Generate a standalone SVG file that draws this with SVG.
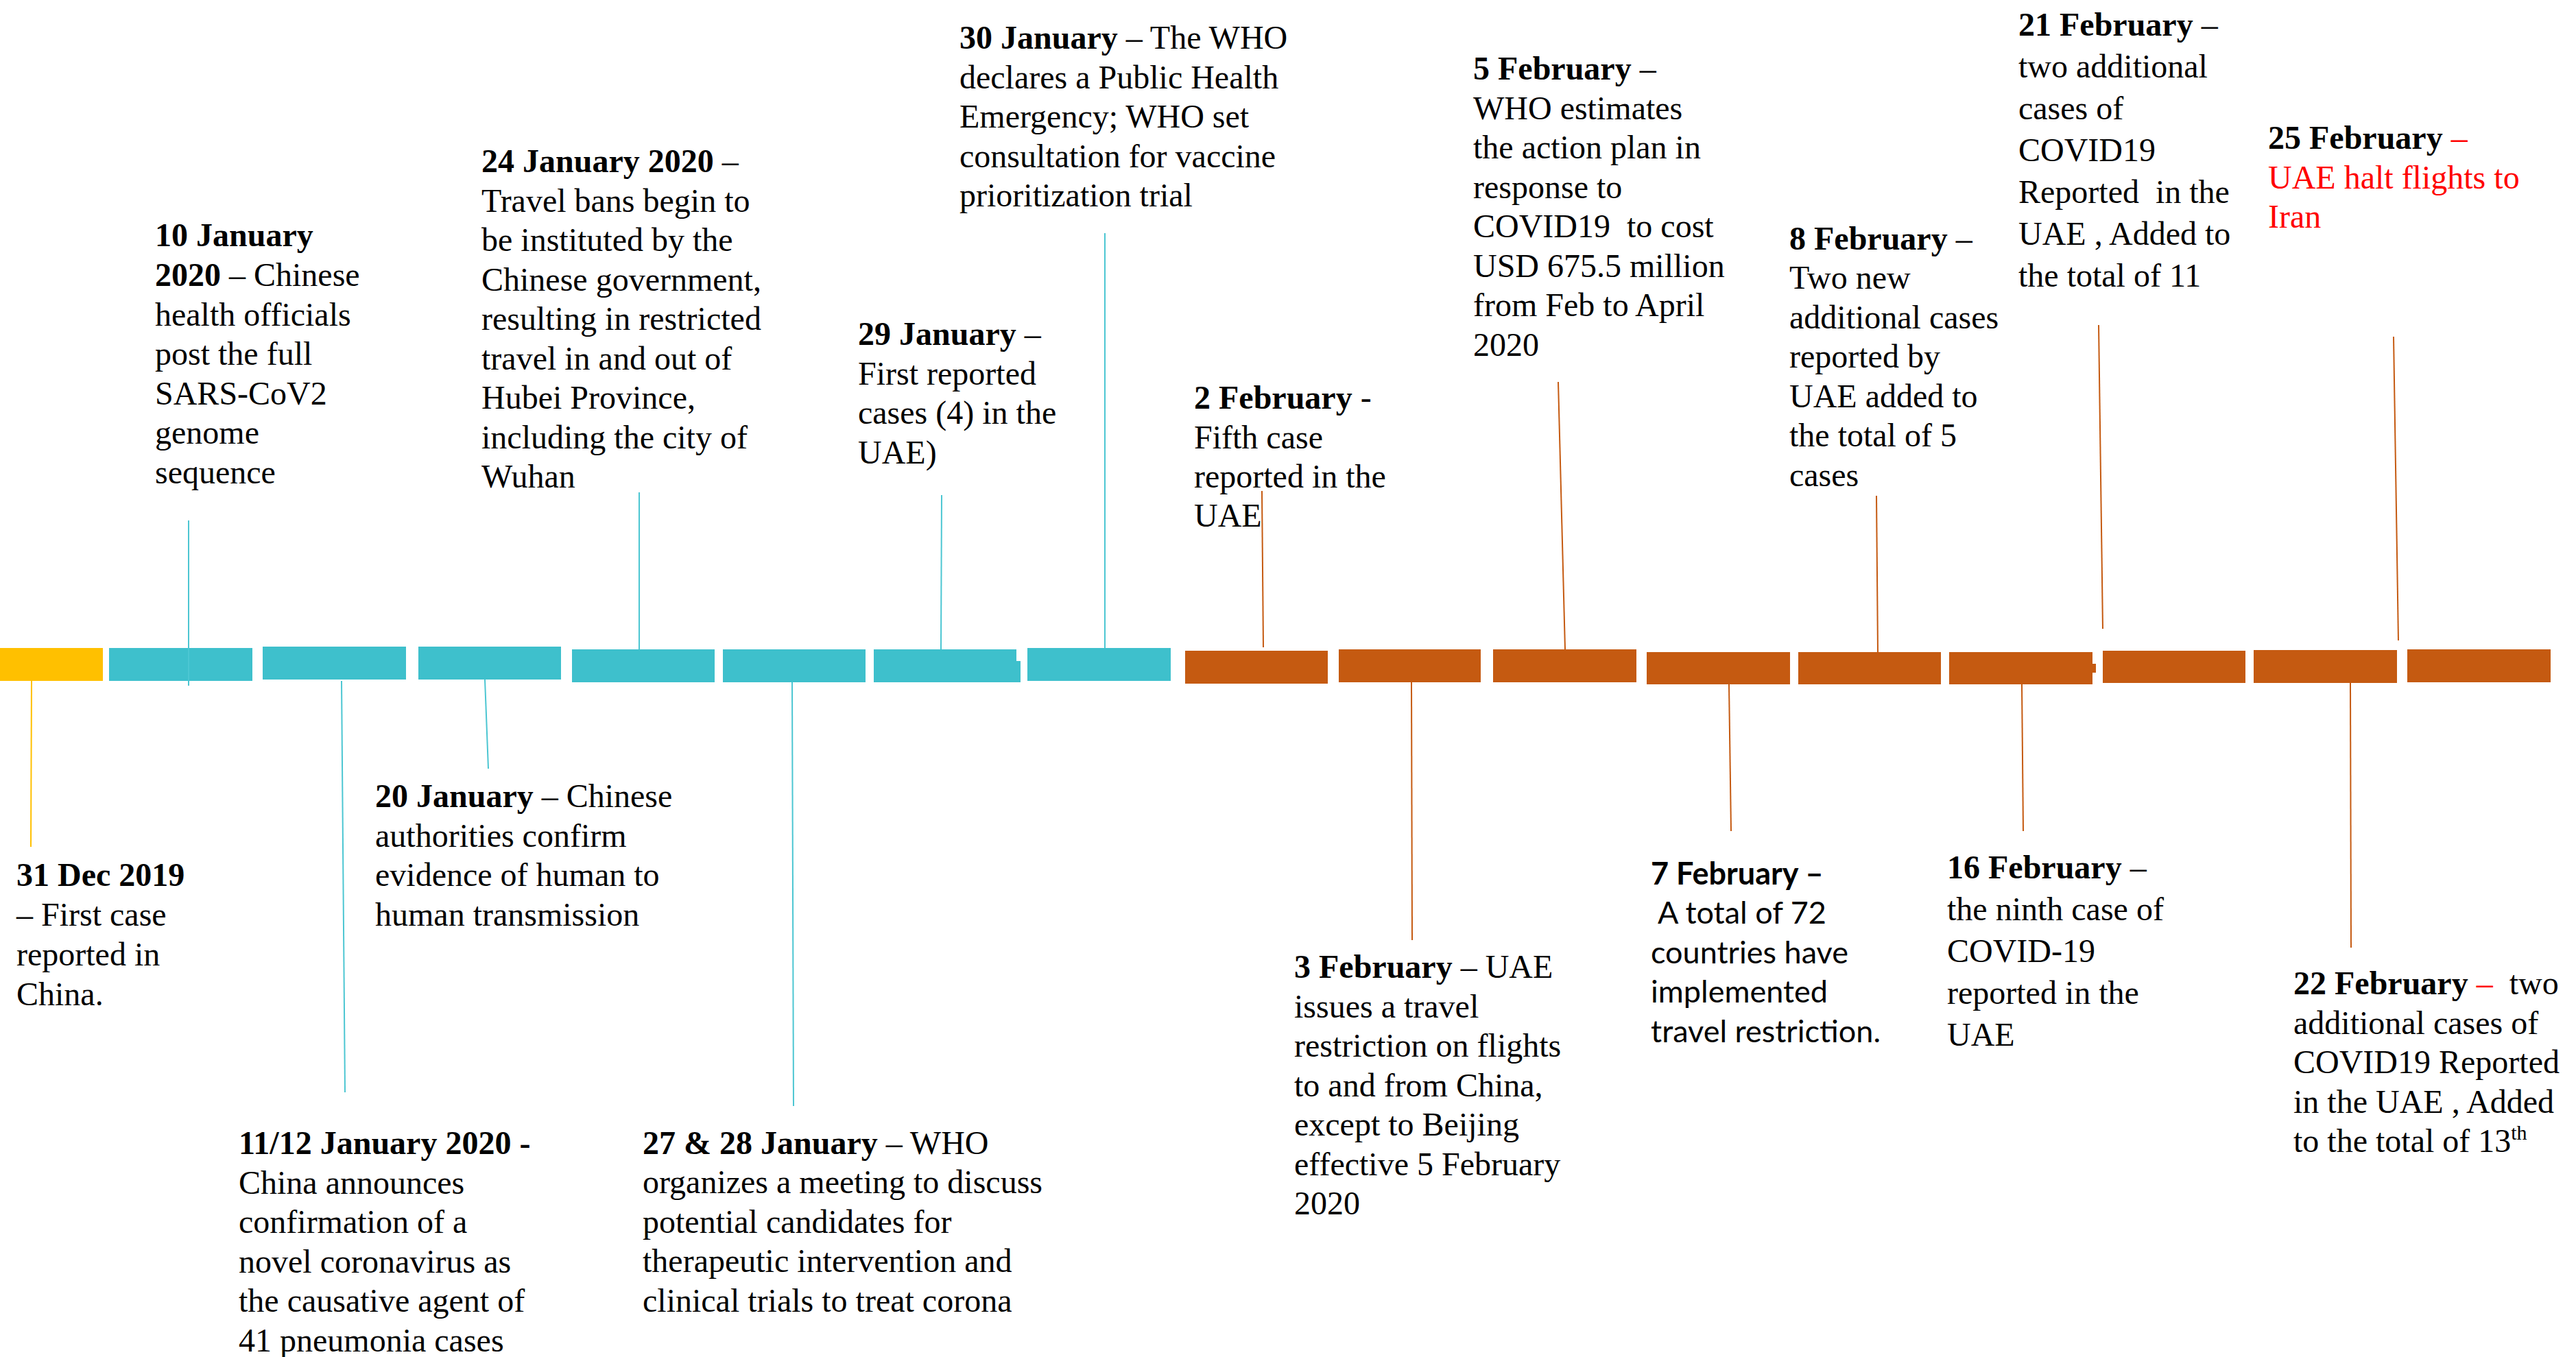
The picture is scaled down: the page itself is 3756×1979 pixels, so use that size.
<svg xmlns="http://www.w3.org/2000/svg" width="3756" height="1979" viewBox="0 0 3756 1979">
<defs>
<style>
.t{font-family:"Liberation Serif","Times New Roman",serif;font-size:48px;fill:#000}
.c{font-family:Lato,"Liberation Sans",sans-serif;font-size:45px;fill:#000}
.b{font-weight:bold}
.r{fill:#FF0000}
.y{fill:#FFC000}
.tq{fill:#3EC0CC}
.o{fill:#C55A11}
.ly{stroke:#FFC000;stroke-width:2;fill:none}
.lt{stroke:#4CC6D2;stroke-width:2;fill:none}
.lo{stroke:#C55A11;stroke-width:2;fill:none}
</style>
</defs>
<rect width="3756" height="1979" fill="#FFFFFF"/>
<g id="timeline-bar">
<rect class="y" x="0" y="945" width="150" height="48"/>
<rect class="tq" x="159" y="945" width="209" height="48"/>
<rect class="tq" x="383" y="943" width="209" height="48"/>
<rect class="tq" x="610" y="943" width="208" height="48"/>
<rect class="tq" x="834" y="947" width="208" height="48"/>
<rect class="tq" x="1054" y="947" width="208" height="48"/>
<rect class="tq" x="1274" y="947" width="208" height="48"/>
<rect class="tq" x="1481" y="964" width="7" height="31"/>
<rect class="tq" x="1498" y="945" width="209" height="48"/>
<rect class="o" x="1728" y="949" width="208" height="48"/>
<rect class="o" x="1952" y="947" width="207" height="48"/>
<rect class="o" x="2177" y="947" width="209" height="48"/>
<rect class="o" x="2401" y="951" width="209" height="47"/>
<rect class="o" x="2622" y="951" width="208" height="47"/>
<rect class="o" x="2842" y="951" width="209" height="47"/>
<rect class="o" x="3050" y="968" width="6" height="13"/>
<rect class="o" x="3066" y="949" width="208" height="47"/>
<rect class="o" x="3286" y="948" width="209" height="48"/>
<rect class="o" x="3510" y="947" width="209" height="48"/>
</g>
<g id="connectors">
<line class="ly" x1="46" y1="993" x2="45" y2="1235"/>
<line class="lt" x1="275" y1="759" x2="275" y2="1000"/>
<line class="lt" x1="498" y1="993" x2="503" y2="1593"/>
<line class="lt" x1="707" y1="991" x2="712" y2="1121"/>
<line class="lt" x1="932" y1="718" x2="932" y2="947"/>
<line class="lt" x1="1155" y1="995" x2="1157" y2="1613"/>
<line class="lt" x1="1373" y1="722" x2="1372" y2="947"/>
<line class="lt" x1="1611" y1="340" x2="1611" y2="945"/>
<line class="lo" x1="1840" y1="716" x2="1842" y2="944"/>
<line class="lo" x1="2058" y1="995" x2="2059" y2="1371"/>
<line class="lo" x1="2272" y1="557" x2="2282" y2="947"/>
<line class="lo" x1="2521" y1="998" x2="2524" y2="1212"/>
<line class="lo" x1="2736" y1="723" x2="2738" y2="951"/>
<line class="lo" x1="2948" y1="998" x2="2950" y2="1212"/>
<line class="lo" x1="3060" y1="474" x2="3066" y2="917"/>
<line class="lo" x1="3427" y1="996" x2="3428" y2="1382"/>
<line class="lo" x1="3490" y1="491" x2="3497" y2="934"/>
</g>
<g id="ev-31dec">
<text class="t" x="24" y="1292"><tspan class="b">31 Dec 2019</tspan></text>
<text class="t" x="24" y="1350">– First case</text>
<text class="t" x="24" y="1408">reported in</text>
<text class="t" x="24" y="1466">China.</text>
</g>
<g id="ev-10jan">
<text class="t" x="226" y="359"><tspan class="b">10 January</tspan></text>
<text class="t" x="226" y="417"><tspan class="b">2020</tspan> – Chinese</text>
<text class="t" x="226" y="475">health officials</text>
<text class="t" x="226" y="532">post the full</text>
<text class="t" x="226" y="590">SARS-CoV2</text>
<text class="t" x="226" y="647">genome</text>
<text class="t" x="226" y="705">sequence</text>
</g>
<g id="ev-11jan">
<text class="t" x="348" y="1683"><tspan class="b">11/12 January 2020 -</tspan></text>
<text class="t" x="348" y="1741">China announces</text>
<text class="t" x="348" y="1798">confirmation of a</text>
<text class="t" x="348" y="1856">novel coronavirus as</text>
<text class="t" x="348" y="1913">the causative agent of</text>
<text class="t" x="348" y="1971">41 pneumonia cases</text>
</g>
<g id="ev-20jan">
<text class="t" x="547" y="1177"><tspan class="b">20 January</tspan> – Chinese</text>
<text class="t" x="547" y="1235">authorities confirm</text>
<text class="t" x="547" y="1292">evidence of human to</text>
<text class="t" x="547" y="1350">human transmission</text>
</g>
<g id="ev-24jan">
<text class="t" x="702" y="251"><tspan class="b">24 January 2020</tspan> –</text>
<text class="t" x="702" y="309">Travel bans begin to</text>
<text class="t" x="702" y="366">be instituted by the</text>
<text class="t" x="702" y="424">Chinese government,</text>
<text class="t" x="702" y="481">resulting in restricted</text>
<text class="t" x="702" y="539">travel in and out of</text>
<text class="t" x="702" y="596">Hubei Province,</text>
<text class="t" x="702" y="654">including the city of</text>
<text class="t" x="702" y="711">Wuhan</text>
</g>
<g id="ev-27jan">
<text class="t" x="937" y="1683"><tspan class="b">27 &amp; 28 January</tspan> – WHO</text>
<text class="t" x="937" y="1740">organizes a meeting to discuss</text>
<text class="t" x="937" y="1798">potential candidates for</text>
<text class="t" x="937" y="1855">therapeutic intervention and</text>
<text class="t" x="937" y="1913">clinical trials to treat corona</text>
</g>
<g id="ev-29jan">
<text class="t" x="1251" y="503"><tspan class="b">29 January</tspan> –</text>
<text class="t" x="1251" y="561">First reported</text>
<text class="t" x="1251" y="618">cases (4) in the</text>
<text class="t" x="1251" y="676">UAE)</text>
</g>
<g id="ev-30jan">
<text class="t" x="1399" y="71"><tspan class="b">30 January</tspan> – The WHO</text>
<text class="t" x="1399" y="129">declares a Public Health</text>
<text class="t" x="1399" y="186">Emergency; WHO set</text>
<text class="t" x="1399" y="244">consultation for vaccine</text>
<text class="t" x="1399" y="301">prioritization trial</text>
</g>
<g id="ev-2feb">
<text class="t" x="1741" y="596"><tspan class="b">2 February</tspan> -</text>
<text class="t" x="1741" y="654">Fifth case</text>
<text class="t" x="1741" y="711">reported in the</text>
<text class="t" x="1741" y="768">UAE</text>
</g>
<g id="ev-3feb">
<text class="t" x="1887" y="1426"><tspan class="b">3 February</tspan> – UAE</text>
<text class="t" x="1887" y="1484">issues a travel</text>
<text class="t" x="1887" y="1541">restriction on flights</text>
<text class="t" x="1887" y="1599">to and from China,</text>
<text class="t" x="1887" y="1656">except to Beijing</text>
<text class="t" x="1887" y="1714">effective 5 February</text>
<text class="t" x="1887" y="1771">2020</text>
</g>
<g id="ev-5feb">
<text class="t" x="2148" y="116"><tspan class="b">5 February</tspan> –</text>
<text class="t" x="2148" y="174">WHO estimates</text>
<text class="t" x="2148" y="231">the action plan in</text>
<text class="t" x="2148" y="289">response to</text>
<text class="t" x="2148" y="346" xml:space="preserve">COVID19  to cost</text>
<text class="t" x="2148" y="404">USD 675.5 million</text>
<text class="t" x="2148" y="461">from Feb to April</text>
<text class="t" x="2148" y="519">2020</text>
</g>
<g id="ev-7feb">
<text class="c" x="2407" y="1290"><tspan class="b">7 February –</tspan></text>
<text class="c" x="2407" y="1347" xml:space="preserve"> A total of 72</text>
<text class="c" x="2407" y="1405">countries have</text>
<text class="c" x="2407" y="1462">implemented</text>
<text class="c" x="2407" y="1520">travel restriction.</text>
</g>
<g id="ev-8feb">
<text class="t" x="2609" y="364"><tspan class="b">8 February</tspan> –</text>
<text class="t" x="2609" y="421">Two new</text>
<text class="t" x="2609" y="479">additional cases</text>
<text class="t" x="2609" y="536">reported by</text>
<text class="t" x="2609" y="594">UAE added to</text>
<text class="t" x="2609" y="651">the total of 5</text>
<text class="t" x="2609" y="709">cases</text>
</g>
<g id="ev-16feb">
<text class="t" x="2839" y="1281"><tspan class="b">16 February</tspan> –</text>
<text class="t" x="2839" y="1342">the ninth case of</text>
<text class="t" x="2839" y="1403">COVID-19</text>
<text class="t" x="2839" y="1464">reported in the</text>
<text class="t" x="2839" y="1525">UAE</text>
</g>
<g id="ev-21feb">
<text class="t" x="2943" y="52"><tspan class="b">21 February</tspan> –</text>
<text class="t" x="2943" y="113">two additional</text>
<text class="t" x="2943" y="174">cases of</text>
<text class="t" x="2943" y="235">COVID19</text>
<text class="t" x="2943" y="296" xml:space="preserve">Reported  in the</text>
<text class="t" x="2943" y="357">UAE , Added to</text>
<text class="t" x="2943" y="418">the total of 11</text>
</g>
<g id="ev-22feb">
<text class="t" x="3344" y="1450" xml:space="preserve"><tspan class="b">22 February</tspan><tspan class="r"> – </tspan> two</text>
<text class="t" x="3344" y="1508">additional cases of</text>
<text class="t" x="3344" y="1565">COVID19 Reported</text>
<text class="t" x="3344" y="1623">in the UAE , Added</text>
<text class="t" x="3344" y="1680">to the total of 13<tspan font-size="30" dy="-18">th</tspan></text>
</g>
<g id="ev-25feb">
<text class="t" x="3307" y="217"><tspan class="b">25 February</tspan><tspan class="r"> –</tspan></text>
<text class="t r" x="3307" y="275">UAE halt flights to</text>
<text class="t r" x="3307" y="332">Iran</text>
</g>
</svg>
